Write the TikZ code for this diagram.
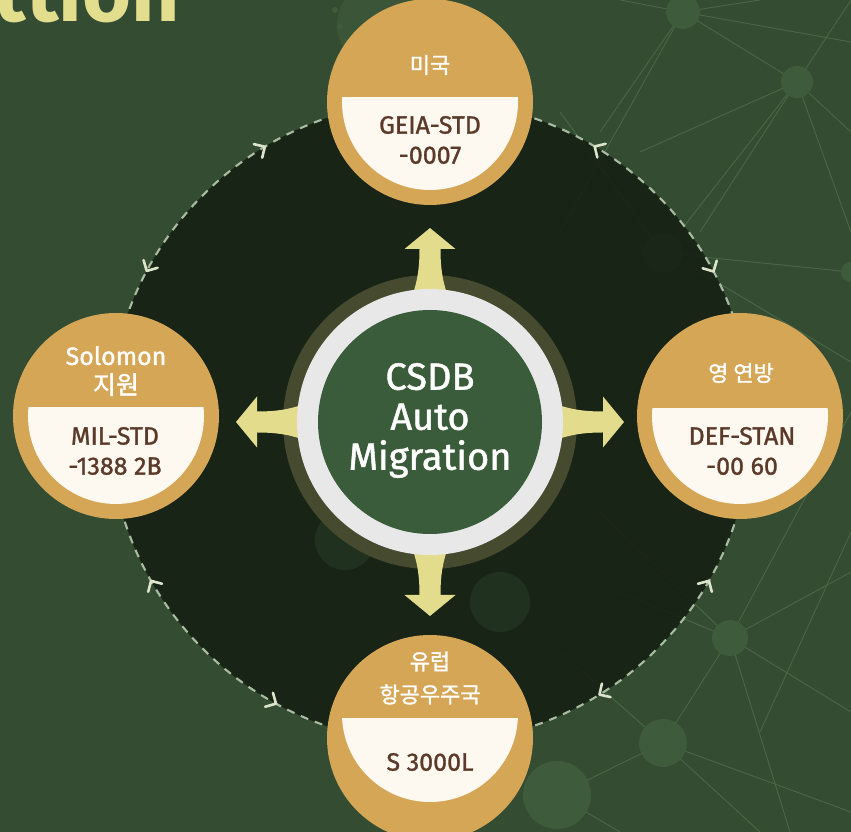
\documentclass[tikz,border=0pt]{standalone}
\usepackage{fontspec}
\setmainfont{Fira Sans}
\newfontfamily\medfont{Fira Sans}[FakeBold=1.2]
\newfontfamily\krfont{Noto Sans CJK KR}[FakeBold=1.4]
\usetikzlibrary{arrows.meta,calc}
\definecolor{bg}{HTML}{344C32}
\definecolor{disk}{HTML}{141D12}
\definecolor{netline}{HTML}{4F6E4B}
\definecolor{netnode}{HTML}{3E5B3B}
\definecolor{gold}{HTML}{D4A656}
\definecolor{cream}{HTML}{FDF8F0}
\definecolor{brownt}{HTML}{5B3A29}
\definecolor{halo}{HTML}{464A2F}
\definecolor{ringw}{HTML}{E8E8E8}
\definecolor{hub}{HTML}{3B5C3A}
\definecolor{arrowy}{HTML}{E2DC8C}
\definecolor{dashc}{HTML}{A9BCA2}
\definecolor{chevc}{HTML}{DCE4CB}
\definecolor{titley}{HTML}{E3DE8E}
\tikzset{
  net/.style={draw=netline, line width=0.9pt, opacity=0.8},
  netdot/.style={fill=netnode},
  orbit/.style={draw=dashc, line width=2.1pt, dash pattern=on 8pt off 7pt},
  chev/.style={draw=chevc, line width=2.6pt, line cap=round, line join=round},
  bubble/.style={circle, fill=gold, minimum size=206pt, inner sep=0pt},
  hdr/.style={text=white, align=center, inner sep=0pt},
  bodytxt/.style={text=brownt, align=center, inner sep=0pt, font=\medfont\fontsize{25pt}{30pt}\selectfont},
  bigarrow/.style={fill=arrowy}
}
\begin{document}
\begin{tikzpicture}[x=1pt,y=1pt]
\useasboundingbox (0,0) rectangle (851,832);
\begin{scope}
\clip (0,0) rectangle (851,832);
\fill[bg] (0,0) rectangle (851,832);
% background network
\fill[netdot, opacity=0.6] (385,807) circle (48);
\foreach \p in {(335,822),(340,806),(346,790),(352,776)} \fill[netdot] \p circle (3);
\draw[net] (683,820) -- (797,750);
\draw[net] (683,820) -- (851,790);
\draw[net] (683,820) -- (620,832);
\draw[net] (683,820) -- (560,600);
\draw[net] (683,820) -- (760,832);
\draw[net] (683,820) -- (600,700);
\draw[net] (797,750) -- (851,700);
\draw[net] (797,750) -- (700,600);
\draw[net] (797,750) -- (851,832);
\draw[net] (797,750) -- (640,680);
\draw[net] (797,750) -- (851,600);
\draw[net] (663,579) -- (797,750);
\draw[net] (663,579) -- (851,560);
\draw[net] (663,579) -- (560,720);
\draw[net] (851,470) -- (700,560);
\draw[net] (730,194) -- (851,260);
\draw[net] (730,194) -- (663,89);
\draw[net] (730,194) -- (851,120);
\draw[net] (730,194) -- (600,320);
\draw[net] (730,194) -- (790,0);
\draw[net] (730,194) -- (851,420);
\draw[net] (730,194) -- (620,240);
\draw[net] (663,89) -- (557,37);
\draw[net] (663,89) -- (851,20);
\draw[net] (663,89) -- (760,0);
\draw[net] (663,89) -- (560,180);
\draw[net] (557,37) -- (620,0);
\draw[net] (851,300) -- (760,100);
\foreach \c/\r in {{(683,820)}/17,{(797,750)}/16,{(663,579)}/20,{(730,194)}/18,{(663,89)}/24,{(557,37)}/34,{(851,560)}/10} \fill[netdot] \c circle (\r);
% dark disc
\coordinate (C) at (430,410);
\fill[disk, opacity=0.85] (C) circle (321);
\fill[netdot, opacity=0.25] (345,292) circle (30);
\fill[netdot, opacity=0.25] (500,230) circle (30);
\draw[orbit] (C) circle (321);
% chevrons on the orbit
\foreach \a/\d in {121.5/31.5, 58.6/148.6, 151.4/241.4, 28.5/-61.5, 210.2/120.2, 329.8/59.8, 240.8/330.8, 302.4/212.4}
  \draw[chev, shift={($(C)+(\a:321)$)}, rotate=\d] (-5,8) -- (3,0) -- (-5,-8);
% title fragment
\node[anchor=base east, inner sep=0pt, text=titley, font=\fontsize{84pt}{84pt}\selectfont\bfseries] (title) at (180,810) {ttion};
% hub
\fill[halo] (C) circle (147);
\foreach \r in {0,90,180,270}
  \fill[bigarrow, shift={(C)}, rotate=\r-90]
    (-10.5,173) .. controls (-10.5,152) and (-13,138) .. (-20,120) -- (20,120)
    .. controls (13,138) and (10.5,152) .. (10.5,173) -- (25.5,173) -- (0,194) -- (-25.5,173) -- cycle;
\node[circle, fill=ringw, minimum size=266pt, inner sep=0pt] (ring) at (C) {};
\node[circle, fill=hub, minimum size=224pt, inner sep=0pt] (hubc) at (C) {};
\node[hdr, font=\medfont\fontsize{38pt}{40pt}\selectfont] (hubtxt) at ($(C)+(0,1.5)$) {CSDB\\Auto\\Migration};
% top bubble
\node[bubble] (top) at (430,730) {};
\begin{scope}\clip (320,734) rectangle (540,600); \fill[cream] (top.center) circle (88); \end{scope}
\node[hdr, font=\fontsize{22pt}{28pt}\selectfont] (toph) at (430,767) {\krfont 미국};
\node[bodytxt] (topb) at (430,692) {GEIA-STD\\-0007};
% left bubble
\node[bubble] (left) at (116,416) {};
\begin{scope}\clip (0,424) rectangle (230,300); \fill[cream] (left.center) circle (88); \end{scope}
\node[hdr, font=\medfont\fontsize{25pt}{29pt}\selectfont] (lefth) at (116,461) {Solomon\\{\krfont 지원}};
\node[bodytxt] (leftb) at (115,381) {MIL-STD\\-1388 2B};
% right bubble
\node[bubble] (right) at (740,416) {};
\begin{scope}\clip (620,423) rectangle (851,300); \fill[cream] (right.center) circle (88); \end{scope}
\node[hdr, font=\fontsize{22pt}{28pt}\selectfont] (righth) at (741,459) {\krfont 영 연방};
\node[bodytxt] (rightb) at (742,381) {DEF-STAN\\-00 60};
% bottom bubble
\node[bubble] (bottom) at (430,94) {};
\begin{scope}\clip (320,113) rectangle (540,0); \fill[cream] (430,118) circle (88); \end{scope}
\node[hdr, font=\fontsize{22pt}{33pt}\selectfont] (bottomh) at (430,154) {{\krfont 유럽}\\{\krfont 항공우주국}};
\node[bodytxt] (bottomb) at (430,70) {S 3000L};
\end{scope}
\end{tikzpicture}
\end{document}
